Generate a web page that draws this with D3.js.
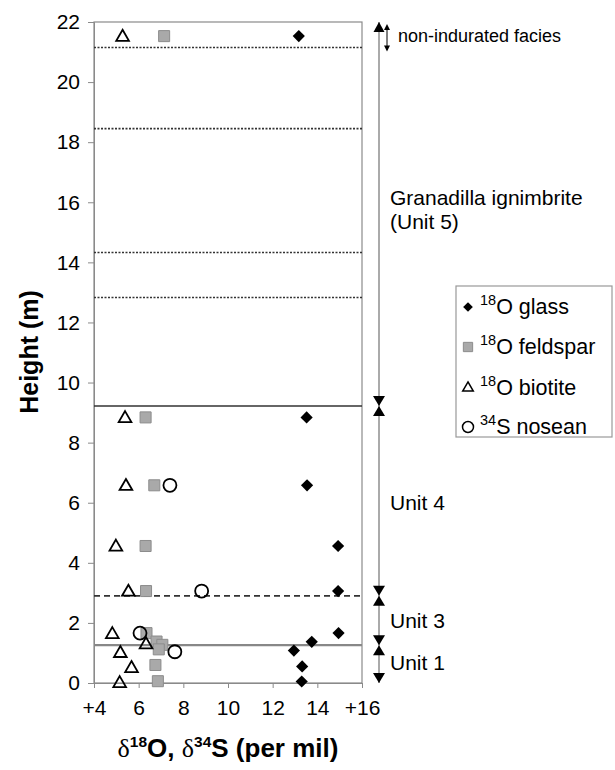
<!DOCTYPE html>
<html>
<head>
<meta charset="utf-8">
<script src="https://cdn.jsdelivr.net/npm/d3@7"></script>
<style>
  html, body { margin: 0; padding: 0; background: #fff; }
  svg { display: block; font-family: "Liberation Sans", Arial, sans-serif; }
</style>
</head>
<body>
<svg id="chart" width="615" height="770"></svg>
<script>
// Stable isotope values (per mil) against stratigraphic height (m)
const glassX = [13.17, 13.52, 13.54, 14.93, 14.93, 14.95, 13.75, 12.95, 13.32, 13.30];
const glassH = [21.53, 8.84, 6.58, 4.56, 3.06, 1.66, 1.37, 1.08, 0.55, 0.05];

const feldsparX = [7.14, 6.31, 6.70, 6.31, 6.33, 6.35, 6.80, 7.06, 6.90, 6.75, 6.86];
const feldsparH = [21.53, 8.84, 6.58, 4.56, 3.06, 1.66, 1.38, 1.27, 1.12, 0.60, 0.06];

const biotiteX = [5.28, 5.39, 5.43, 4.98, 5.54, 4.82, 6.33, 5.18, 5.68, 5.15];
const biotiteH = [21.53, 8.84, 6.58, 4.56, 3.06, 1.65, 1.31, 1.02, 0.52, 0.02];

const noseanX = [7.40, 8.82, 6.06, 7.62];
const noseanH = [6.58, 3.06, 1.66, 1.04];

// Contacts between units / flow packages (m)
const dottedContacts = [21.15, 18.45, 14.33, 12.83];
const unit45Contact = 9.22;
const unit34Contact = 2.9;
const unit13Contact = 1.26;

const xTicks = [4, 6, 8, 10, 12, 14, 16];
const xTickLabels = ["+4", "6", "8", "10", "12", "14", "+16"];
const yTicks = [0, 2, 4, 6, 8, 10, 12, 14, 16, 18, 20, 22];

const unitLabels = [
  { lines: ["Granadilla ignimbrite", "(Unit 5)"], h: 15.75 },
  { lines: ["Unit 4"], h: 6.0 },
  { lines: ["Unit 3"], h: 2.08 },
  { lines: ["Unit 1"], h: 0.65 }
];

const legendItems = ["glass", "feldspar", "biotite", "nosean"];
const legendIso = ["18", "18", "18", "34"];
const legendEl = ["O", "O", "O", "S"];

const svg = d3.select("#chart");
const x = d3.scaleLinear().domain([4, 16]).range([94, 362]);
const y = d3.scaleLinear().domain([0, 22]).range([683, 22]);

// Plot frame
svg.append("rect")
  .attr("x", x(4)).attr("y", y(22))
  .attr("width", x(16) - x(4)).attr("height", y(0) - y(22))
  .attr("fill", "none").attr("stroke", "#8a8a8a").attr("stroke-width", 1.2);

// Axes
const xAxis = d3.axisBottom(x).tickValues(xTicks)
  .tickFormat((d, i) => xTickLabels[i]).tickSize(5).tickPadding(12);
const gx = svg.append("g").attr("transform", `translate(0,${y(0)})`).call(xAxis);
gx.select(".domain").attr("stroke", "#8a8a8a");
gx.selectAll(".tick line").attr("stroke", "#8a8a8a");
gx.selectAll(".tick text").attr("font-size", 21).attr("fill", "#000")
  .attr("font-family", "Liberation Sans, Arial, sans-serif");

const yAxis = d3.axisLeft(y).tickValues(yTicks).tickSize(6).tickPadding(8);
const gy = svg.append("g").attr("transform", `translate(${x(4)},0)`).call(yAxis);
gy.select(".domain").attr("stroke", "#8a8a8a");
gy.selectAll(".tick line").attr("stroke", "#8a8a8a");
gy.selectAll(".tick text").attr("font-size", 21).attr("fill", "#000")
  .attr("font-family", "Liberation Sans, Arial, sans-serif");

// Contact lines
const contacts = svg.append("g");
dottedContacts.forEach(h => {
  contacts.append("line")
    .attr("x1", x(4)).attr("x2", x(16)).attr("y1", y(h)).attr("y2", y(h))
    .attr("stroke", "#333").attr("stroke-width", 1.6).attr("stroke-dasharray", "2,1.5");
});
contacts.append("line")
  .attr("x1", x(4)).attr("x2", x(16)).attr("y1", y(unit45Contact)).attr("y2", y(unit45Contact))
  .attr("stroke", "#333").attr("stroke-width", 1.6);
contacts.append("line")
  .attr("x1", x(4)).attr("x2", x(16)).attr("y1", y(unit34Contact)).attr("y2", y(unit34Contact))
  .attr("stroke", "#333").attr("stroke-width", 1.6).attr("stroke-dasharray", "6,4");
contacts.append("line")
  .attr("x1", x(4)).attr("x2", x(16)).attr("y1", y(unit13Contact)).attr("y2", y(unit13Contact))
  .attr("stroke", "#888").attr("stroke-width", 2.2);

// Data markers
const pts = svg.append("g");
const diamond = d3.symbol().type(d3.symbolDiamond2).size(95);
const square = d3.symbol().type(d3.symbolSquare2).size(155);
const triangle = d3.symbol().type(d3.symbolTriangle2).size(115);

pts.selectAll(".glass").data(glassX).join("path")
  .attr("class", "glass").attr("d", diamond)
  .attr("transform", (d, i) => `translate(${x(d)},${y(glassH[i])})`)
  .attr("fill", "#000");

pts.selectAll(".feldspar").data(feldsparX).join("path")
  .attr("class", "feldspar").attr("d", square)
  .attr("transform", (d, i) => `translate(${x(d)},${y(feldsparH[i])})`)
  .attr("fill", "#a9a9a9").attr("stroke", "#8c8c8c").attr("stroke-width", 1);

pts.selectAll(".biotite").data(biotiteX).join("path")
  .attr("class", "biotite").attr("d", triangle)
  .attr("transform", (d, i) => `translate(${x(d)},${y(biotiteH[i]) + 1})`)
  .attr("fill", "none").attr("stroke", "#000").attr("stroke-width", 1.8);

pts.selectAll(".nosean").data(noseanX).join("circle")
  .attr("class", "nosean").attr("r", 6.5)
  .attr("cx", d => x(d)).attr("cy", (d, i) => y(noseanH[i]))
  .attr("fill", "none").attr("stroke", "#000").attr("stroke-width", 1.8);

// Unit bar on the right
const barX = 379;
const ann = svg.append("g");
ann.append("line")
  .attr("x1", barX).attr("x2", barX).attr("y1", y(22)).attr("y2", y(0))
  .attr("stroke", "#aaa").attr("stroke-width", 2);

function arrowHead(g, cx, tipY, dir, w, h) {
  // dir = -1 points up, +1 points down
  const baseY = tipY - dir * h;
  g.append("path")
    .attr("d", `M${cx - w / 2},${baseY} L${cx + w / 2},${baseY} L${cx},${tipY} Z`)
    .attr("fill", "#000");
}
arrowHead(ann, barX, y(22), -1, 11, 10);
[unit45Contact, unit34Contact, unit13Contact].forEach(h => {
  arrowHead(ann, barX, y(h), 1, 12, 10);
  arrowHead(ann, barX, y(h), -1, 12, 10);
});
arrowHead(ann, barX, y(0), 1, 12, 10);

// Small double arrow for the non-indurated top
const nx = 387;
ann.append("line").attr("x1", nx).attr("x2", nx)
  .attr("y1", y(22) + 4).attr("y2", y(dottedContacts[0]) + 2)
  .attr("stroke", "#000").attr("stroke-width", 1);
arrowHead(ann, nx, y(22) + 2, -1, 6, 6);
arrowHead(ann, nx, y(dottedContacts[0]) + 4, 1, 6, 6);
ann.append("text").attr("x", 398).attr("y", y(21.55) + 6)
  .attr("font-size", 18).text("non-indurated facies");

// Unit labels
unitLabels.forEach(u => {
  const t = ann.append("text").attr("x", 390).attr("font-size", 21);
  const n = u.lines.length;
  u.lines.forEach((line, i) => {
    t.append("tspan").attr("x", 390)
      .attr("y", y(u.h) + 7 + (i - (n - 1) / 2) * 24)
      .text(line);
  });
});

// Legend
const lg = svg.append("g");
lg.append("rect").attr("x", 456).attr("y", 286).attr("width", 156).attr("height", 151)
  .attr("fill", "#fff").attr("stroke", "#999").attr("stroke-width", 1.2);
const rowY = [305, 345, 386, 425];
const legSyms = [
  g => g.append("path").attr("d", d3.symbol().type(d3.symbolDiamond2).size(60)).attr("fill", "#000"),
  g => g.append("path").attr("d", d3.symbol().type(d3.symbolSquare2).size(110))
        .attr("fill", "#a9a9a9").attr("stroke", "#8c8c8c"),
  g => g.append("path").attr("d", d3.symbol().type(d3.symbolTriangle2).size(80))
        .attr("fill", "none").attr("stroke", "#000").attr("stroke-width", 1.5),
  g => g.append("circle").attr("r", 5.5).attr("fill", "none").attr("stroke", "#000").attr("stroke-width", 1.5)
];
legendItems.forEach((name, i) => {
  const g = lg.append("g").attr("transform", `translate(468,${rowY[i] + 2})`);
  legSyms[i](g);
  const t = lg.append("text").attr("x", 480).attr("y", rowY[i] + 9).attr("font-size", 21.5);
  t.append("tspan").attr("font-size", 14.5).attr("dy", -9).text(legendIso[i]);
  t.append("tspan").attr("dy", 9).text(legendEl[i] + " " + name);
});

// Axis titles
const xt = svg.append("text").attr("x", 228).attr("y", 757)
  .attr("text-anchor", "middle").attr("font-size", 26).attr("font-weight", "bold");
xt.append("tspan").attr("font-family", "Liberation Serif, serif").attr("font-weight", "normal").text("δ");
xt.append("tspan").attr("font-size", 15.5).attr("dy", -10).text("18");
xt.append("tspan").attr("dy", 10).text("O, ");
xt.append("tspan").attr("font-family", "Liberation Serif, serif").attr("font-weight", "normal").text("δ");
xt.append("tspan").attr("font-size", 15.5).attr("dy", -10).text("34");
xt.append("tspan").attr("dy", 10).text("S (per mil)");

svg.append("text")
  .attr("transform", "translate(38,352) rotate(-90)")
  .attr("text-anchor", "middle").attr("font-size", 25).attr("font-weight", "bold")
  .text("Height (m)");
</script>
</body>
</html>
